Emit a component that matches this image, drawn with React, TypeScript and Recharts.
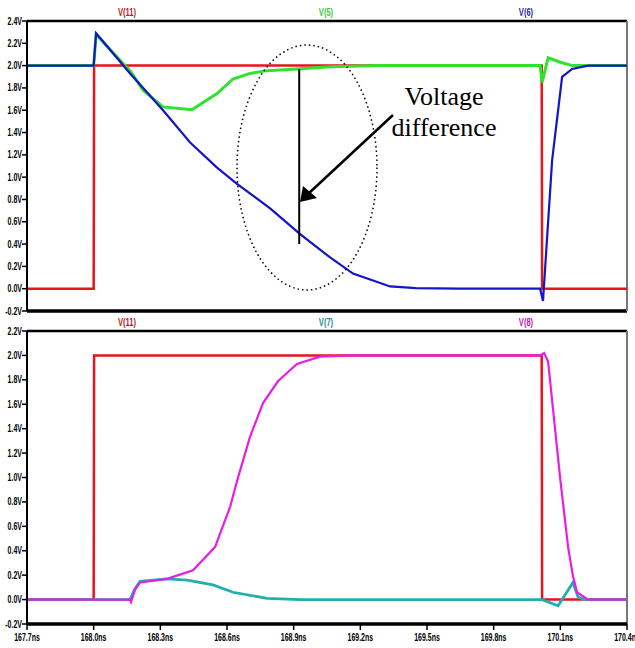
import React from 'react';
import { LineChart, Line, XAxis, YAxis, ReferenceLine } from 'recharts';

// time axis, ns
const timeTicks = [167.7, 168.0, 168.3, 168.6, 168.9, 169.2, 169.5, 169.8, 170.1, 170.4];
const topVoltTicks = [-0.2, 0, 0.2, 0.4, 0.6, 0.8, 1.0, 1.2, 1.4, 1.6, 1.8, 2.0, 2.2, 2.4];
const bottomVoltTicks = [-0.2, 0, 0.2, 0.4, 0.6, 0.8, 1.0, 1.2, 1.4, 1.6, 1.8, 2.0, 2.2];

// [time ns, volts]
const v11 = [
  [167.7, 0], [168.0, 0], [168.002, 2.0], [170.016, 2.0], [170.018, 0], [170.4, 0],
];

const v5 = [
  [167.7, 2.0], [168.0, 2.0], [168.011, 2.28], [168.141, 2.0], [168.164, 1.955],
  [168.222, 1.78], [168.312, 1.63], [168.442, 1.605], [168.555, 1.75], [168.627, 1.88],
  [168.703, 1.93], [168.78, 1.955], [168.915, 1.97], [169.064, 1.99], [169.289, 2.0],
  [170.009, 2.0], [170.018, 1.85], [170.045, 2.07], [170.1, 2.03], [170.153, 2.0], [170.4, 2.0],
];

const v6 = [
  [167.7, 2.0], [168.0, 2.0], [168.011, 2.29], [168.164, 1.93], [168.254, 1.73],
  [168.312, 1.6], [168.434, 1.31], [168.555, 1.085], [168.645, 0.94], [168.794, 0.72],
  [168.929, 0.49], [169.064, 0.28], [169.167, 0.135], [169.334, 0.02], [169.45, 0.005],
  [169.64, 0], [170.009, 0], [170.022, -0.11], [170.063, 1.15], [170.108, 1.9],
  [170.153, 1.97], [170.225, 2.0], [170.4, 2.0],
];

const v7 = [
  [167.7, 0], [168.163, 0], [168.186, 0.09], [168.209, 0.15], [168.33, 0.17],
  [168.42, 0.16], [168.537, 0.12], [168.627, 0.06], [168.78, 0.01], [168.929, 0],
  [170.018, 0], [170.09, -0.05], [170.157, 0.14], [170.18, 0.02], [170.211, 0], [170.4, 0],
];

const v8 = [
  [167.7, 0], [168.163, 0], [168.168, -0.02], [168.186, 0.08], [168.209, 0.14],
  [168.33, 0.17], [168.447, 0.24], [168.546, 0.43], [168.614, 0.76], [168.645, 0.97],
  [168.703, 1.33], [168.762, 1.61], [168.83, 1.79], [168.915, 1.93], [169.018, 1.99],
  [169.154, 2.0], [170.009, 2.0], [170.027, 2.02], [170.045, 1.95], [170.1, 0.98],
  [170.135, 0.43], [170.157, 0.19], [170.175, 0.06], [170.225, 0], [170.4, 0],
];

const toRows = (pts: number[][]) => pts.map(([t, v]) => ({ t, v }));

const FONT = "'Liberation Sans', Arial, sans-serif";
const SQUEEZE = 0.7;

const fmtV = (v: number) => `${v.toFixed(1)}V`;
const fmtT = (v: number) => `${v.toFixed(1)}ns`;

// LTspice style narrow bold tick labels
const VoltTick = ({ x, y, payload }: any) => (
  <g transform={`translate(${x},${y})`}>
    <text transform={`scale(${SQUEEZE},1)`} textAnchor="end" dy="0.35em" fontFamily={FONT} fontWeight={700} fontSize={10} fill="#000">
      {fmtV(payload.value)}
    </text>
  </g>
);

const TimeTick = ({ x, y, payload }: any) => (
  <g transform={`translate(${x},${y})`}>
    <text transform={`scale(${SQUEEZE},1)`} textAnchor="middle" dy="0.71em" fontFamily={FONT} fontWeight={700} fontSize={10} fill="#000">
      {fmtT(payload.value)}
    </text>
  </g>
);

const labelStyle = (x: number, y: number, color: string): React.CSSProperties => ({
  position: 'absolute',
  left: x - 20,
  top: y - 7,
  width: 40,
  textAlign: 'center',
  color,
  fontFamily: FONT,
  fontWeight: 700,
  fontSize: 10.5,
  lineHeight: '14px',
  transform: 'scaleX(0.72)',
});

const RED = '#e8141c';

export default function App() {
  return (
    <div style={{ position: 'absolute', left: 0, top: 0, width: 635, height: 648, background: '#fff', overflow: 'hidden' }}>
      {/* top panel */}
      <div style={{ position: 'absolute', left: 0, top: 0 }}>
        <LineChart width={635} height={320} margin={{ top: 21, right: 8, bottom: 9, left: 0 }}>
          <XAxis type="number" dataKey="t" domain={[167.7, 170.4]} ticks={timeTicks} hide allowDataOverflow />
          <YAxis
            type="number"
            domain={[-0.2, 2.4]}
            ticks={topVoltTicks}
            width={27}
            tick={<VoltTick />}
            tickSize={5}
            tickMargin={0}
            axisLine={{ stroke: '#000', strokeWidth: 2 }}
            tickLine={{ stroke: '#000', strokeWidth: 1.5 }}
            interval={0}
            allowDataOverflow
          />
          <ReferenceLine y={2.4} stroke="#000" strokeWidth={2.5} />
          <ReferenceLine y={-0.2} stroke="#000" strokeWidth={3.5} />
          <ReferenceLine x={170.4} stroke="#777" strokeWidth={2} />
          <Line data={toRows(v11)} dataKey="v" type="linear" stroke={RED} strokeWidth={2.5} dot={false} isAnimationActive={false} />
          <Line data={toRows(v5)} dataKey="v" type="linear" stroke="#2fe32f" strokeWidth={3} dot={false} isAnimationActive={false} />
          <Line data={toRows(v6)} dataKey="v" type="linear" stroke="#1414c8" strokeWidth={2.2} dot={false} isAnimationActive={false} />
          <ReferenceLine
            segment={[{ x: 168.925, y: 1.97 }, { x: 168.925, y: 0.4 }]}
            stroke="#000"
            strokeWidth={2}
          />
        </LineChart>
      </div>

      {/* bottom panel */}
      <div style={{ position: 'absolute', left: 0, top: 320 }}>
        <LineChart width={635} height={328} margin={{ top: 11, right: 8, bottom: 0, left: 0 }}>
          <XAxis
            type="number"
            dataKey="t"
            domain={[167.7, 170.4]}
            ticks={timeTicks}
            height={24}
            tick={<TimeTick />}
            tickSize={6}
            tickMargin={4}
            axisLine={{ stroke: '#000', strokeWidth: 3.5 }}
            tickLine={{ stroke: '#000', strokeWidth: 1.5 }}
            interval={0}
            allowDataOverflow
          />
          <YAxis
            type="number"
            domain={[-0.2, 2.2]}
            ticks={bottomVoltTicks}
            width={27}
            tick={<VoltTick />}
            tickSize={5}
            tickMargin={0}
            axisLine={{ stroke: '#000', strokeWidth: 2 }}
            tickLine={{ stroke: '#000', strokeWidth: 1.5 }}
            interval={0}
            allowDataOverflow
          />
          <ReferenceLine y={2.2} stroke="#000" strokeWidth={2.5} />
          <ReferenceLine x={170.4} stroke="#777" strokeWidth={2} />
          <Line data={toRows(v11)} dataKey="v" type="linear" stroke={RED} strokeWidth={2.5} dot={false} isAnimationActive={false} />
          <Line data={toRows(v7)} dataKey="v" type="linear" stroke="#1fb0ad" strokeWidth={2.8} dot={false} isAnimationActive={false} />
          <Line data={toRows(v8)} dataKey="v" type="linear" stroke="#e61ee6" strokeWidth={2.2} dot={false} isAnimationActive={false} />
        </LineChart>
      </div>

      {/* trace names */}
      <div style={labelStyle(127, 12, '#b01e28')}>V(11)</div>
      <div style={labelStyle(326, 12, '#3cc83c')}>V(5)</div>
      <div style={labelStyle(526, 12, '#1e2896')}>V(6)</div>
      <div style={labelStyle(127, 322, '#b01e28')}>V(11)</div>
      <div style={labelStyle(326, 322, '#1e8c8c')}>V(7)</div>
      <div style={labelStyle(526, 322, '#b41eb4')}>V(8)</div>

      {/* annotation */}
      <svg width={635} height={648} style={{ position: 'absolute', left: 0, top: 0, pointerEvents: 'none' }}>
        <ellipse cx={307} cy={167.5} rx={70} ry={122.5} fill="none" stroke="#000" strokeWidth={1.5} strokeDasharray="1.5 3" />
        <line x1={393} y1={115} x2={308} y2={194} stroke="#000" strokeWidth={2.5} />
        <polygon points="300,202 303,186 317,198" fill="#000" />
        <text x={444} y={105} textAnchor="middle" fontFamily="'Liberation Serif', 'Times New Roman', serif" fontSize={26} fill="#000">
          Voltage
        </text>
        <text x={444} y={136} textAnchor="middle" fontFamily="'Liberation Serif', 'Times New Roman', serif" fontSize={26} fill="#000">
          difference
        </text>
      </svg>
    </div>
  );
}
